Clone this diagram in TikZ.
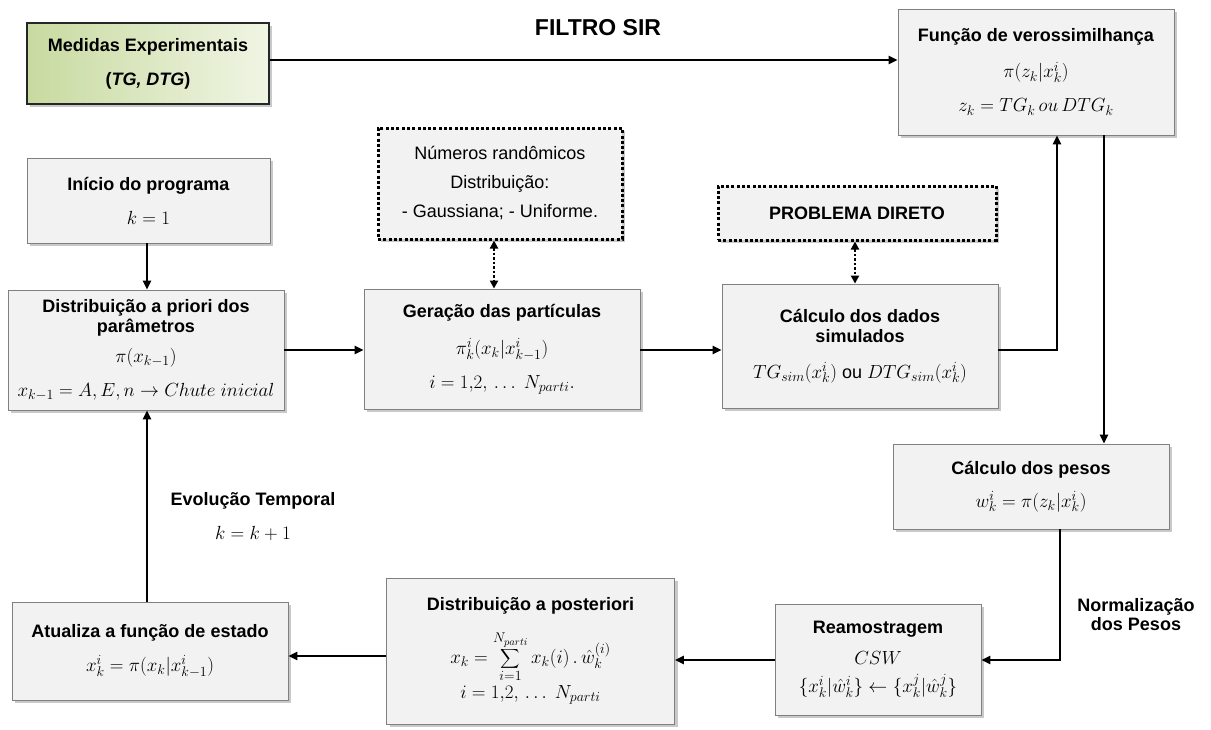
\documentclass[tikz,border=0pt]{standalone}
\usepackage{fix-cm}
\usepackage{fontspec}
\setmainfont{Liberation Sans}
\usetikzlibrary{arrows.meta,shadows}
\DeclareMathSizes{18}{19}{14}{10.5}

\definecolor{boxfill}{RGB}{242,242,242}
\definecolor{boxline}{RGB}{128,128,128}
\definecolor{greenA}{RGB}{200,218,160}
\definecolor{greenB}{RGB}{240,245,228}

% fixed line pitch inside the boxes
\newcommand\boxfont{\fontsize{18}{34}\selectfont\lineskiplimit-100pt\relax}
% a taller summation sign
\newcommand\bigsum{\mathop{\vcenter{\hbox{\scalebox{1.35}{$\displaystyle\sum$}}}}\limits}

\tikzset{
  txt/.style={font=\boxfont},
  box/.style={txt, draw=boxline, fill=boxfill, line width=0.9pt, align=center,
    inner sep=0pt,
    drop shadow={shadow xshift=3pt, shadow yshift=-3pt, opacity=0.3, fill=black!70}},
  greenbox/.style={box, draw=black!85, line width=1.4pt,
    left color=greenA, right color=greenB},
  dotbox/.style={box, draw=black, line width=3pt, dash pattern=on 3pt off 2.3pt},
  arr/.style={line width=2.4pt, -{Triangle[length=9pt,width=8pt]}},
  darr/.style={line width=2.4pt, dash pattern=on 2.5pt off 2pt,
    {Triangle[length=8pt,width=8pt]}-{Triangle[length=8pt,width=8pt]}},
  lbl/.style={txt, align=center, inner sep=0pt}
}

\begin{document}
\begin{tikzpicture}[x=1pt,y=-1pt]
\useasboundingbox (0,0) rectangle (1211,729);

% title
\node[lbl, font=\fontsize{23}{28}\selectfont\bfseries] (title) at (598,28) {FILTRO SIR};

% boxes
\node[greenbox, minimum width=242pt, minimum height=81pt] (med) at (148,63.5)
  {\textbf{Medidas Experimentais}\\\textbf{(\textit{TG, DTG})}};

\node[box, minimum width=276pt, minimum height=126pt] (ver) at (1036,72)
  {\textbf{Função de verossimilhança}\\[2pt]
   $\pi\bigl(z_k\big|x_k^i\bigr)$\\
   $z_k = TG_k\,ou\,DTG_k$};

\node[box, minimum width=243pt, minimum height=85pt] (ini) at (148.5,200.5)
  {\textbf{Início do programa}\\$k = 1$};

\node[box, minimum width=276pt, minimum height=120pt] (pri) at (146,350)
  {\textbf{Distribuição a priori dos}\\[-14pt]
   \textbf{parâmetros}\\[-4pt]
   $\pi(x_{k-1})$\\
   $x_{k-1} = A, E, n \rightarrow Chute\ inicial$};

\node[dotbox, minimum width=244pt, minimum height=111pt] (num) at (500,183.5)
  {Números randômicos\\[-5pt]Distribuição:\\[-5pt]- Gaussiana; - Uniforme.};

\node[box, minimum width=276pt, minimum height=120pt] (ger) at (502,349)
  {\textbf{Geração das partículas}\\[3pt]
   $\pi_k^i\bigl(x_k\big|x_{k-1}^i\bigr)$\\
   $i = 1{,}2{,}\,\ldots\ N_{parti}.$};

\node[dotbox, minimum width=278pt, minimum height=54pt] (pd) at (857,213)
  {\textbf{PROBLEMA DIRETO}};

\node[box, minimum width=276pt, minimum height=124pt] (sim) at (860,346)
  {\textbf{Cálculo dos dados}\\[-14pt]
   \textbf{simulados}\\[2pt]
   $TG_{sim}(x_k^i)$ ou $DTG_{sim}(x_k^i)$};

\node[box, minimum width=276pt, minimum height=85pt] (pes) at (1031,486.5)
  {\textbf{Cálculo dos pesos}\\[-1pt]
   $w_k^i = \pi\bigl(z_k\big|x_k^i\bigr)$};

\node[box, minimum width=206pt, minimum height=111pt] (rea) at (878,659.5)
  {\textbf{Reamostragem}\\[-3pt]
   $CSW$\\[-6pt]
   $\bigl\{x_k^i\big|\hat{w}_k^i\bigr\} \leftarrow \bigl\{x_k^j\big|\hat{w}_k^j\bigr\}$};

\node[box, minimum width=288pt, minimum height=146pt] (pos) at (530.5,651)
  {\textbf{Distribuição a posteriori}\\[19pt]
   $x_k = \bigsum_{i=1}^{N_{parti}} x_k(i)\,.\,\hat{w}_k^{(i)}$\\[1pt]
   $i = 1{,}2{,}\,\ldots\ N_{parti}$};

\node[box, minimum width=276pt, minimum height=98pt] (atu) at (150,651)
  {\textbf{Atualiza a função de estado}\\[0pt]
   $x_k^i = \pi\bigl(x_k\big|x_{k-1}^i\bigr)$};

% free labels
\node[lbl] (evo) at (253,517)
  {\textbf{Evolução Temporal}\\$k = k + 1$};
\node[lbl, font=\fontsize{18}{19}\selectfont\bfseries] (norm) at (1136,615)
  {Normalização\\dos Pesos};

% connector helpers
\coordinate (xa) at (1057,0);
\coordinate (xb) at (1104,0);
\coordinate (xc) at (1060,0);
\coordinate (xn) at (494,0);
\coordinate (xp) at (855,0);
\coordinate (xv) at (147,0);
\coordinate (ya) at (0,60);
\coordinate (yb) at (0,350);
\coordinate (yc) at (0,660);
\coordinate (yd) at (0,656);

% connectors
\draw[arr] (med.east |- ya) -- (ver.west |- ya);
\draw[arr] (ini.south -| xv) -- (pri.north -| xv);
\draw[arr] (pri.east |- yb) -- (ger.west |- yb);
\draw[darr] (num.south -| xn) -- (ger.north -| xn);
\draw[arr] (ger.east |- yb) -- (sim.west |- yb);
\draw[darr] (pd.south -| xp) -- (sim.north -| xp);
\draw[arr] (sim.east |- yb) -| (ver.south -| xa);
\draw[arr] (ver.south -| xb) -- (pes.north -| xb);
\draw[arr] (pes.south -| xc) |- (rea.east |- yc);
\draw[arr] (rea.west |- yc) -- (pos.east |- yc);
\draw[arr] (pos.west |- yd) -- (atu.east |- yd);
\draw[arr] (atu.north -| xv) -- (pri.south -| xv);
\end{tikzpicture}
\end{document}
